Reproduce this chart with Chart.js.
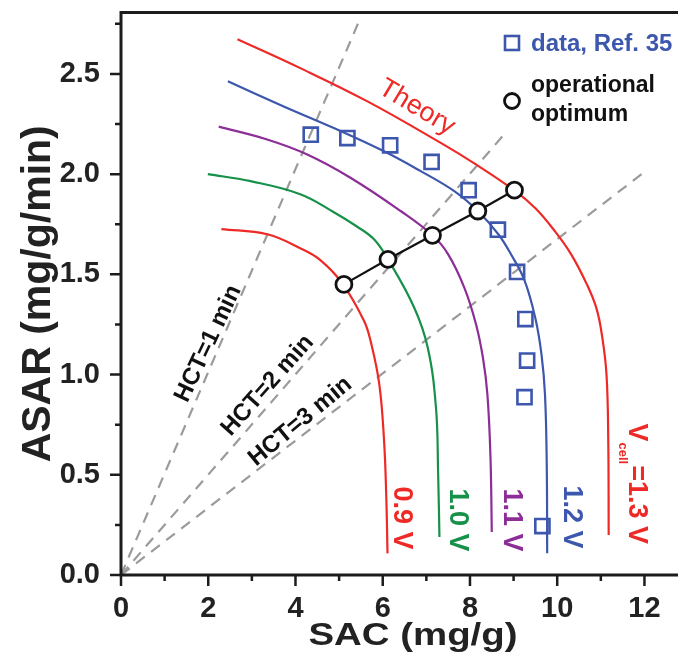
<!DOCTYPE html>
<html>
<head>
<meta charset="utf-8">
<script src="https://cdn.jsdelivr.net/npm/chart.js@4"></script>
<style>
  html, body { margin: 0; padding: 0; background: #fff; overflow: hidden; }
  #wrap { width: 678px; height: 672px; }
  canvas { display: block; }
</style>
</head>
<body>
<div id="wrap"><canvas id="chart"></canvas></div>
<script>
// curves, [SAC, ASAR]
const v09 = [[2.30,1.726],[3.35,1.700],[4.11,1.630],[4.57,1.571],[5.08,1.453],[5.57,1.269],[5.72,1.169],[5.92,0.954],[6.03,0.672],[6.08,0.40],[6.11,0.108]];
const v10 = [[1.99,2.0],[2.97,1.965],[4.11,1.90],[4.88,1.81],[5.40,1.74],[5.80,1.675],[6.12,1.575],[6.72,1.335],[7.03,1.136],[7.22,0.837],[7.27,0.506],[7.30,0.19]];
const v11 = [[2.24,2.237],[3.35,2.173],[4.27,2.098],[5.26,1.982],[6.41,1.816],[7.14,1.695],[7.50,1.600],[7.87,1.434],[8.14,1.25],[8.30,1.08],[8.40,0.90],[8.47,0.589],[8.50,0.215]];
const v12 = [[2.45,2.463],[3.73,2.338],[4.88,2.230],[6.03,2.114],[6.87,2.015],[7.64,1.915],[8.18,1.816],[8.65,1.700],[8.94,1.600],[9.25,1.470],[9.50,1.280],[9.64,1.100],[9.72,0.900],[9.76,0.550],[9.77,0.108]];
const v13 = [[2.67,2.673],[4.11,2.529],[5.65,2.363],[7.33,2.156],[8.09,2.055],[9.01,1.920],[9.50,1.830],[9.93,1.720],[10.32,1.600],[10.68,1.450],[10.90,1.330],[11.03,1.190],[11.13,1.000],[11.17,0.672],[11.18,0.199]];

const refData = [[4.35,2.197],[5.19,2.18],[6.17,2.144],[7.12,2.061],[7.97,1.92],[8.64,1.723],[9.08,1.512],[9.27,1.277],[9.31,1.07],[9.25,0.887],[9.66,0.244]];
const optimum = [[5.11,1.45],[6.12,1.575],[7.14,1.695],[8.18,1.816],[9.02,1.92]];

const hct1 = [[0,0],[5.49,2.78]];
const hct2 = [[0,0],[8.75,2.19]];
const hct3 = [[0,0],[11.97,2.006]];

const xTicksStep = 1;
const yTicksStep = 0.25;

const RED = '#ee2a26', GREEN = '#17904a', PURPLE = '#8d2e98', BLUE = '#3c57ad';
const FONT = '"Liberation Sans", Arial, sans-serif';

const pts = a => a.map(p => ({x: p[0], y: p[1]}));

function curve(d, color) {
  return { data: pts(d), showLine: true, borderColor: color, borderWidth: 2.2, pointRadius: 0,
           tension: 0.4, order: 5 };
}
function hct(d) {
  return { data: pts(d), showLine: true, borderColor: '#9b9b9b', borderWidth: 2.2, borderDash: [11, 8],
           pointRadius: 0, order: 10 };
}
function noPad(s) {
  s.paddingTop = 0; s.paddingBottom = 0; s.paddingLeft = 0; s.paddingRight = 0;
}

const decor = {
  id: 'decor',
  afterDraw(chart) {
    const {ctx, chartArea: a, scales: {x, y}} = chart;
    ctx.save();
    ctx.strokeStyle = '#1c1c1c';
    ctx.lineWidth = 3;
    ctx.beginPath();
    ctx.moveTo(chart.width, a.top);
    ctx.lineTo(a.left, a.top);
    ctx.lineTo(a.left, a.bottom);
    ctx.lineTo(chart.width, a.bottom);
    ctx.stroke();
    ctx.lineWidth = 2.5;
    ctx.beginPath();
    x.ticks.forEach(t => {
      const px = x.getPixelForValue(t.value);
      const len = Math.abs(t.value % 2) < 1e-6 ? 11 : 6;
      ctx.moveTo(px, a.bottom); ctx.lineTo(px, a.bottom + len);
    });
    y.ticks.forEach(t => {
      const py = y.getPixelForValue(t.value);
      const len = Math.abs(Math.round(t.value * 2) - t.value * 2) < 1e-6 ? 11 : 6;
      ctx.moveTo(a.left, py); ctx.lineTo(a.left - len, py);
    });
    ctx.stroke();

    // x axis title, slightly widened like the original
    ctx.save();
    ctx.translate(413, 636);
    ctx.scale(1.2, 1);
    ctx.font = 'bold 32px ' + FONT;
    ctx.fillStyle = '#222'; ctx.textAlign = 'center'; ctx.textBaseline = 'middle';
    ctx.fillText('SAC (mg/g)', 0, 0);
    ctx.restore();

    const txt = (s, vx, vy, deg, font, color) => {
      ctx.save();
      ctx.translate(x.getPixelForValue(vx), y.getPixelForValue(vy));
      ctx.rotate(deg * Math.PI / 180);
      ctx.font = font; ctx.fillStyle = color;
      ctx.textAlign = 'center'; ctx.textBaseline = 'middle';
      ctx.fillText(s, 0, 0);
      ctx.restore();
    };
    txt('Theory', 6.78, 2.333, 31, '27px ' + FONT, RED);
    txt('HCT=1 min', 2.0, 1.154, -64.6, 'bold 24px ' + FONT, '#111');
    txt('HCT=2 min', 3.36, 0.945, -48.4, 'bold 24px ' + FONT, '#111');
    txt('HCT=3 min', 4.11, 0.766, -39.5, 'bold 24px ' + FONT, '#111');
    txt('0.9 V', 6.44, 0.284, 90, 'bold 27px ' + FONT, RED);
    txt('1.0 V', 7.72, 0.274, 90, 'bold 27px ' + FONT, GREEN);
    txt('1.1 V', 8.94, 0.274, 90, 'bold 27px ' + FONT, PURPLE);
    txt('1.2 V', 10.32, 0.289, 90, 'bold 27px ' + FONT, BLUE);

    // V_cell=1.3 V, rotated, with subscript
    ctx.save();
    ctx.translate(x.getPixelForValue(11.82), y.getPixelForValue(0.756));
    ctx.rotate(Math.PI / 2);
    ctx.fillStyle = RED; ctx.textAlign = 'left'; ctx.textBaseline = 'middle';
    ctx.font = 'bold 27px ' + FONT;
    ctx.fillText('V', 0, 0);
    let w = ctx.measureText('V').width;
    ctx.font = 'bold 13px ' + FONT;
    ctx.fillText('cell', w + 1, 14);
    w += ctx.measureText('cell').width + 2;
    ctx.font = 'bold 27px ' + FONT;
    ctx.fillText('=1.3 V', w, 0);
    ctx.restore();

    // legend
    ctx.lineWidth = 2.6;
    ctx.strokeStyle = BLUE;
    ctx.strokeRect(505, 36, 14, 14);
    ctx.font = 'bold 24px ' + FONT;
    ctx.fillStyle = BLUE; ctx.textAlign = 'left'; ctx.textBaseline = 'middle';
    ctx.fillText('data, Ref. 35', 531, 44);
    ctx.strokeStyle = '#111';
    ctx.lineWidth = 2.8;
    ctx.beginPath(); ctx.arc(512, 101, 7.5, 0, Math.PI * 2); ctx.stroke();
    ctx.fillStyle = '#111';
    ctx.font = 'bold 23px ' + FONT;
    ctx.fillText('operational', 531, 86);
    ctx.fillText('optimum', 531, 115);
    ctx.restore();
  }
};

new Chart(document.getElementById('chart'), {
  type: 'scatter',
  data: {
    datasets: [
      hct(hct1), hct(hct2), hct(hct3),
      curve(v09, RED), curve(v10, GREEN), curve(v11, PURPLE), curve(v12, BLUE), curve(v13, RED),
      { data: pts(refData), pointStyle: 'rect', pointRadius: 10, pointBorderWidth: 2.6,
        borderColor: BLUE, pointBackgroundColor: 'rgba(0,0,0,0)', order: 2 },
      { data: pts(optimum), showLine: true, borderColor: '#111', borderWidth: 2.2, tension: 0,
        pointRadius: 8, pointBorderWidth: 2.8, pointBorderColor: '#111', pointBackgroundColor: '#fff', order: 1 }
    ]
  },
  options: {
    responsive: true,
    maintainAspectRatio: false,
    animation: false,
    layout: { padding: { top: 11, left: 0, right: 0, bottom: 0 } },
    plugins: { legend: { display: false }, tooltip: { enabled: false } },
    scales: {
      x: {
        min: 0, max: 12.48,
        // invisible tick marks only push the labels down; real marks are drawn by the plugin
        grid: { display: true, drawOnChartArea: false, drawTicks: true, tickLength: 17, color: 'rgba(0,0,0,0)' },
        border: { display: false },
        ticks: {
          stepSize: xTicksStep, includeBounds: false, padding: 0, color: '#222',
          font: { family: FONT, size: 29, weight: 'bold' },
          callback: v => (Math.abs(v % 2) < 1e-6 ? String(v) : '')
        },
        afterFit: s => { s.height = 97; noPad(s); }
      },
      y: {
        min: 0, max: 2.806,
        grid: { display: false, drawTicks: false },
        border: { display: false },
        ticks: {
          stepSize: yTicksStep, includeBounds: false, padding: 21, color: '#222',
          font: { family: FONT, size: 29, weight: 'bold' },
          callback: v => (Math.abs(Math.round(v * 2) - v * 2) < 1e-6 ? v.toFixed(1) : '')
        },
        title: { display: true, text: 'ASAR (mg/g/min)', color: '#222', padding: { top: 14, bottom: 0 },
                 font: { family: FONT, size: 41, weight: 'bold' } },
        afterFit: s => { s.width = 121; noPad(s); }
      }
    }
  },
  plugins: [decor]
});
</script>
</body>
</html>
